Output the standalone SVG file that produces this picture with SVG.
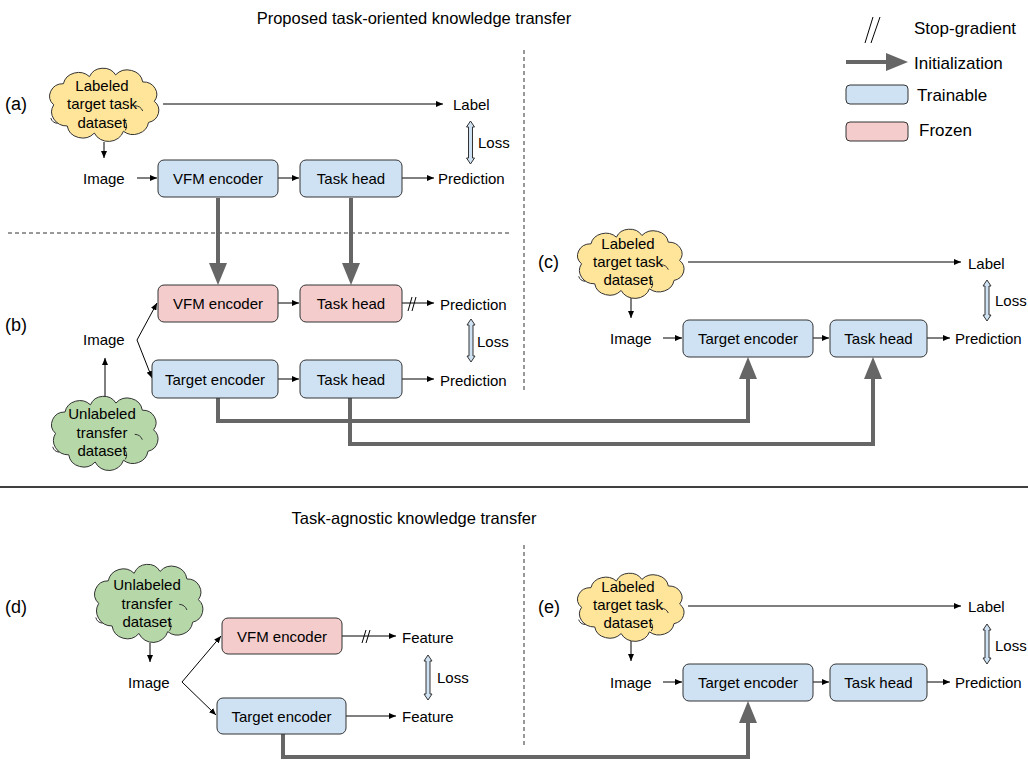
<svg xmlns="http://www.w3.org/2000/svg" xmlns:xlink="http://www.w3.org/1999/xlink" width="1028" height="763" viewBox="0 0 1028 763">
<style>
text{font-family:"Liberation Sans",Arial,sans-serif;font-size:15px;fill:#000;dominant-baseline:central}
.c{text-anchor:middle}
.title{font-size:16.5px;text-anchor:middle}
.lbl{font-size:18px}
.leg{font-size:17px}
.tr{fill:#cfe2f3;stroke:#333;stroke-width:1}
.fz{fill:#f4cccc;stroke:#333;stroke-width:1}
.ln{stroke:#000;stroke-width:1;fill:none;marker-end:url(#ah)}
.sg{stroke:#000;stroke-width:1;fill:none}
.thick{stroke:#666;stroke-width:4;fill:none;marker-end:url(#big)}
.dash{stroke:#333;stroke-width:1;stroke-dasharray:4 3;fill:none}
.loss{fill:#cfe2f3;stroke:#333;stroke-width:1}
.yel{fill:#ffe599}
.grn{fill:#b6d7a8}
</style>
<defs>
<marker id="ah" markerUnits="userSpaceOnUse" markerWidth="8" markerHeight="6" refX="7" refY="3" orient="auto"><path d="M0,0 L7,3 L0,6 Z" fill="#000"/></marker>
<marker id="big" markerUnits="userSpaceOnUse" markerWidth="22" markerHeight="18" refX="0" refY="9" orient="auto"><path d="M0,0 L22,9 L0,18 Z" fill="#666"/></marker>
<g id="cloud">
<path stroke="#333" stroke-width="1" vector-effect="non-scaling-stroke" d="M8,40 A14,14 0 0 1 18,16 A16,16 0 0 1 45,8 A15,15 0 0 1 72,6 A16,16 0 0 1 100,14 A14,14 0 0 1 112,36 A14,14 0 0 1 106,60 A16,16 0 0 1 80,70 A16,16 0 0 1 50,72 A16,16 0 0 1 22,64 A16,16 0 0 1 8,40 Z"/>
<path stroke="#333" stroke-width="1" vector-effect="non-scaling-stroke" d="M92,41 A9,9 0 0 1 100,47 M80,57 A9,9 0 0 1 82,69 M5,55 A8,8 0 0 0 12,61" fill="none"/>
</g>
</defs>
<rect width="1028" height="763" fill="#fff"/>

<g id="titles">
<text class="title" x="414" y="18">Proposed task-oriented knowledge transfer</text>
<text class="title" x="414" y="518">Task-agnostic knowledge transfer</text>
</g>

<g id="legend">
<line class="sg" x1="865" y1="43" x2="873" y2="17"/>
<line class="sg" x1="871" y1="43" x2="880" y2="17"/>
<text class="leg" x="914" y="28">Stop-gradient</text>
<path class="thick" d="M846,62 H886"/>
<text class="leg" x="914" y="63">Initialization</text>
<rect class="tr" x="846" y="85" width="62" height="19" rx="4"/>
<text class="leg" x="917" y="95">Trainable</text>
<rect class="fz" x="846" y="122" width="62" height="19" rx="4"/>
<text class="leg" x="919" y="130">Frozen</text>
</g>

<g id="separators">
<path class="dash" d="M8,233 H512"/>
<path class="dash" d="M524,50 V393"/>
<path class="dash" d="M524,545 V745"/>
<path d="M0,487 H1028" stroke="#000" stroke-width="1.5"/>
</g>

<g id="connectors">
<path class="ln" d="M104,142 V158"/>
<path class="ln" d="M163,104 H443"/>
<path class="ln" d="M137,178 H157"/>
<path class="ln" d="M278,178 H299"/>
<path class="ln" d="M402,178 H434"/>
<path class="ln" d="M105,397 V358"/>
<path class="ln" d="M137,340 L157,303"/>
<path class="ln" d="M137,340 L152,378"/>
<path class="ln" d="M278,303 H299"/>
<path class="ln" d="M402,303 H434"/>
<line class="sg" x1="408" y1="311" x2="412" y2="297"/>
<line class="sg" x1="412" y1="311" x2="416" y2="297"/>
<path class="ln" d="M278,379 H299"/>
<path class="ln" d="M402,379 H434"/>
<path class="ln" d="M631,298 V318"/>
<path class="ln" d="M688,262 H961"/>
<path class="ln" d="M663,338 H682"/>
<path class="ln" d="M813,338 H829"/>
<path class="ln" d="M927,338 H950"/>
<path class="ln" d="M150,643 V662"/>
<path class="ln" d="M182,682 L221,636"/>
<path class="ln" d="M182,682 L216,715"/>
<path class="ln" d="M342,636 H396"/>
<line class="sg" x1="362" y1="643" x2="366" y2="630"/>
<line class="sg" x1="366" y1="643" x2="370" y2="630"/>
<path class="ln" d="M346,716 H396"/>
<path class="ln" d="M631,641 V661"/>
<path class="ln" d="M688,606 H961"/>
<path class="ln" d="M663,682 H682"/>
<path class="ln" d="M813,682 H829"/>
<path class="ln" d="M927,682 H950"/>
<path class="thick" d="M218,198 V263"/>
<path class="thick" d="M351,198 V263"/>
<path class="thick" d="M218,398 V421 H748 V379"/>
<path class="thick" d="M350,398 V444 H873 V379"/>
<path class="thick" d="M283,734 V757 H748 V723"/>
<polygon class="loss" points="470.5,121 474.5,127 472.5,127 472.5,158 474.5,158 470.5,164 466.5,158 468.5,158 468.5,127 466.5,127"/>
<polygon class="loss" points="471,319 475,325 473,325 473,356 475,356 471,362 467,356 469,356 469,325 467,325"/>
<polygon class="loss" points="987,280 991,286 989,286 989,315 991,315 987,321 983,315 985,315 985,286 983,286"/>
<polygon class="loss" points="428,655 432,661 430,661 430,694 432,694 428,700 424,694 426,694 426,661 424,661"/>
<polygon class="loss" points="987,624 991,630 989,630 989,658 991,658 987,664 983,658 985,658 985,630 983,630"/>
</g>

<g id="a">
<text class="lbl" x="5" y="104">(a)</text>
<g id="a-cloud" class="yel"><use xlink:href="#cloud" transform="translate(46,69.6) scale(0.967,0.881)"/>
<text class="c" x="102" y="85">Labeled</text><text class="c" x="102" y="103">target task</text><text class="c" x="102" y="122">dataset</text></g>
<text x="83" y="178">Image</text>
<g id="a-vfm"><rect class="tr" x="158" y="160" width="120" height="37" rx="6"/><text class="c" x="218" y="178.5">VFM encoder</text></g>
<g id="a-head"><rect class="tr" x="300" y="160" width="102" height="37" rx="6"/><text class="c" x="351" y="178.5">Task head</text></g>
<text x="453" y="104">Label</text>
<text x="438" y="178">Prediction</text>
<text x="478" y="142">Loss</text>
</g>

<g id="b">
<text class="lbl" x="5" y="325">(b)</text>
<g id="b-cloud" class="grn"><use xlink:href="#cloud" transform="translate(48,397.7) scale(0.943,0.893)"/>
<text class="c" x="102" y="413">Unlabeled</text><text class="c" x="102" y="432">transfer</text><text class="c" x="102" y="450">dataset</text></g>
<text x="83" y="339">Image</text>
<g id="b-vfm"><rect class="fz" x="158" y="285" width="120" height="37" rx="6"/><text class="c" x="218" y="303.5">VFM encoder</text></g>
<g id="b-head1"><rect class="fz" x="300" y="285" width="102" height="37" rx="6"/><text class="c" x="351" y="303.5">Task head</text></g>
<g id="b-target"><rect class="tr" x="152" y="360" width="126" height="38" rx="6"/><text class="c" x="215" y="379">Target encoder</text></g>
<g id="b-head2"><rect class="tr" x="300" y="360" width="102" height="38" rx="6"/><text class="c" x="351" y="379">Task head</text></g>
<text x="440" y="304">Prediction</text>
<text x="440" y="380">Prediction</text>
<text x="477" y="341">Loss</text>
</g>

<g id="c">
<text class="lbl" x="538" y="262">(c)</text>
<g id="c-cloud" class="yel"><use xlink:href="#cloud" transform="translate(574,230.5) scale(0.943,0.833)"/>
<text class="c" x="628" y="243">Labeled</text><text class="c" x="628" y="261">target task</text><text class="c" x="628" y="279">dataset</text></g>
<text x="610" y="338">Image</text>
<g id="c-target"><rect class="tr" x="683" y="320" width="130" height="37" rx="6"/><text class="c" x="748" y="338.5">Target encoder</text></g>
<g id="c-head"><rect class="tr" x="830" y="320" width="97" height="37" rx="6"/><text class="c" x="878.5" y="338.5">Task head</text></g>
<text x="968" y="263">Label</text>
<text x="955" y="338">Prediction</text>
<text x="995" y="300">Loss</text>
</g>

<g id="d">
<text class="lbl" x="5" y="607">(d)</text>
<g id="d-cloud" class="grn"><use xlink:href="#cloud" transform="translate(91,565.8) scale(0.959,0.94)"/>
<text class="c" x="147" y="584">Unlabeled</text><text class="c" x="147" y="603">transfer</text><text class="c" x="147" y="621">dataset</text></g>
<text x="128" y="682">Image</text>
<g id="d-vfm"><rect class="fz" x="222" y="618" width="120" height="36" rx="6"/><text class="c" x="282" y="636">VFM encoder</text></g>
<g id="d-target"><rect class="tr" x="217" y="698" width="129" height="36" rx="6"/><text class="c" x="281.5" y="716">Target encoder</text></g>
<text x="402" y="637">Feature</text>
<text x="402" y="716">Feature</text>
<text x="437" y="677">Loss</text>
</g>

<g id="e">
<text class="lbl" x="538" y="607">(e)</text>
<g id="e-cloud" class="yel"><use xlink:href="#cloud" transform="translate(574,574.5) scale(0.943,0.82)"/>
<text class="c" x="628" y="586">Labeled</text><text class="c" x="628" y="604">target task</text><text class="c" x="628" y="622">dataset</text></g>
<text x="610" y="682">Image</text>
<g id="e-target"><rect class="tr" x="683" y="664" width="130" height="37" rx="6"/><text class="c" x="748" y="682.5">Target encoder</text></g>
<g id="e-head"><rect class="tr" x="830" y="664" width="97" height="37" rx="6"/><text class="c" x="878.5" y="682.5">Task head</text></g>
<text x="968" y="606">Label</text>
<text x="955" y="682">Prediction</text>
<text x="995" y="645">Loss</text>
</g>
</svg>
